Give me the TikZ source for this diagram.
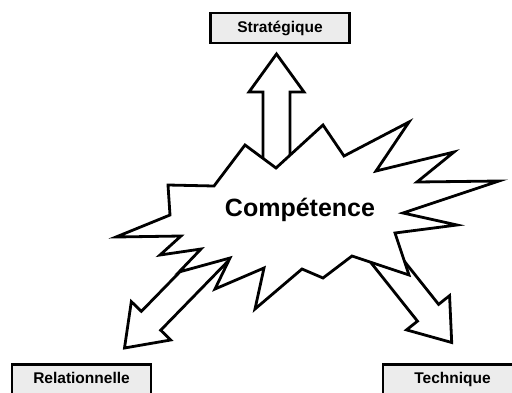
\documentclass[tikz,border=0pt]{standalone}
\usepackage{fontspec}
\setmainfont{Liberation Sans}
\usetikzlibrary{positioning,calc}

% block arrow from #1 (base, hidden in the burst) to #2 (tip)
\newcommand{\blockarrow}[2]{%
  \coordinate (#2-h) at ($(#2)!38pt!(#1)$);
  \path[arrowbody] ($(#1)!13.5pt!90:(#2)$) -- ($(#2-h)!13.5pt!90:(#2)$)
    -- ($(#2-h)!27.5pt!90:(#2)$) -- (#2) -- ($(#2-h)!27.5pt!-90:(#2)$)
    -- ($(#2-h)!13.5pt!-90:(#2)$) -- ($(#1)!13.5pt!-90:(#2)$) -- cycle;
}

\tikzset{
  level/.style={draw, line width=2.3pt, fill=gray!15, minimum width=139pt,
    minimum height=30pt, inner sep=0pt, text height=11.6pt, text depth=3pt,
    font=\bfseries\fontsize{15.5}{18}\selectfont},
  burst/.style={draw, line width=2.8pt, fill=white},
  arrowbody/.style={draw, line width=2.8pt, fill=white},
}

\begin{document}
\begin{tikzpicture}[x=1pt, y=-1pt]
    \clip (0,0) rectangle (512,392);

    \node[level] (strat) at (280,28) {Stratégique};
    \node[level] (rel) at (81.5,379.5) {Relationnelle};
    \node[level] (tech) at (452.5,379.5) {Technique};

    % arrow ends
    \coordinate (baseS) at (276.5,200);
    \coordinate (tipS) at (276.5,54);
    \coordinate (baseR) at (236.2,233.4);
    \coordinate (tipR) at (124.5,348);
    \coordinate (baseT) at (352.2,217.4);
    \coordinate (tipT) at (451.7,342.5);

    \blockarrow{baseS}{tipS}
    \blockarrow{baseR}{tipR}
    \blockarrow{baseT}{tipT}

    % the burst
    \path[burst] (276,168) -- (323,125) -- (344,156) -- (409,122) -- (376,171)
        -- (454,152) -- (417,182) -- (499,181) -- (403,213) -- (457,225)
        -- (395,233) -- (409,275) -- (352,256) -- (323,278) -- (302,269)
        -- (255,309) -- (264,268) -- (215,289) -- (230,258) -- (179,272)
        -- (201,249) -- (160,255) -- (181,236) -- (116,237) -- (170,215)
        -- (168,185) -- (214,186) -- (245,145) -- cycle;

    \node[font=\bfseries\fontsize{25}{30}\selectfont] (comp) at (300,210) {Compétence};
\end{tikzpicture}
\end{document}
